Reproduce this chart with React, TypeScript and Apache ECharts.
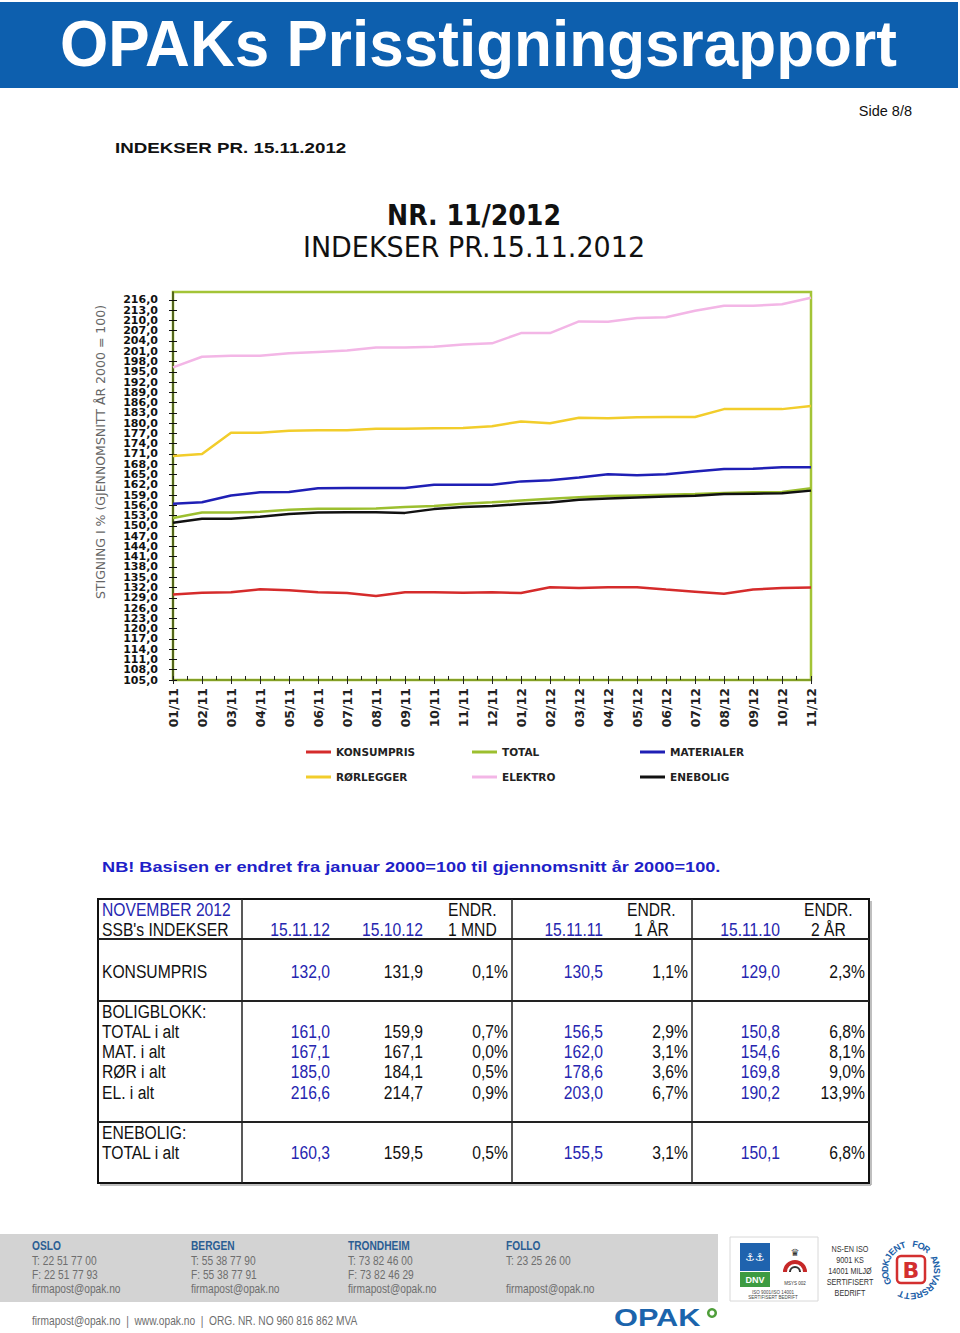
import React, { useEffect, useRef } from 'react';
import * as echarts from 'echarts';

// ---------- chart data ----------
const categories = ['01/11', '02/11', '03/11', '04/11', '05/11', '06/11', '07/11', '08/11', '09/11', '10/11', '11/11', '12/11',
  '01/12', '02/12', '03/12', '04/12', '05/12', '06/12', '07/12', '08/12', '09/12', '10/12', '11/12'];
const konsumpris = [130.0, 130.5, 130.6, 131.5, 131.2, 130.6, 130.4, 129.5, 130.6, 130.6, 130.5, 130.6, 130.4, 132.1, 131.9, 132.1, 132.1, 131.4, 130.8, 130.2, 131.4, 131.9, 132.0];
const total = [152.3, 153.9, 153.9, 154.1, 154.7, 155.0, 155.0, 155.1, 155.5, 155.8, 156.5, 156.9, 157.4, 157.9, 158.4, 158.7, 158.9, 159.1, 159.3, 159.6, 159.8, 159.9, 161.0];
const materialer = [156.5, 156.9, 158.9, 159.8, 159.9, 161.0, 161.1, 161.1, 161.1, 162.0, 162.0, 162.0, 163.0, 163.3, 164.1, 165.1, 164.8, 165.1, 165.9, 166.6, 166.7, 167.1, 167.1];
const rorlegger = [170.4, 171.0, 177.2, 177.2, 177.8, 177.9, 177.9, 178.4, 178.4, 178.5, 178.6, 179.1, 180.5, 180.0, 181.6, 181.4, 181.7, 181.8, 181.8, 184.1, 184.1, 184.1, 185.0];
const elektro = [196.3, 199.4, 199.7, 199.7, 200.4, 200.8, 201.2, 202.1, 202.1, 202.3, 203.0, 203.3, 206.3, 206.3, 209.7, 209.6, 210.7, 210.9, 212.8, 214.3, 214.3, 214.7, 216.6];
const enebolig = [150.9, 152.1, 152.1, 152.7, 153.5, 153.9, 154.0, 154.0, 153.8, 154.9, 155.5, 155.8, 156.4, 156.8, 157.6, 158.0, 158.3, 158.6, 158.8, 159.3, 159.4, 159.5, 160.3];
const seriesNames = ['KONSUMPRIS', 'TOTAL', 'MATERIALER', 'RØRLEGGER', 'ELEKTRO', 'ENEBOLIG'];
const yMin = 105;
const yMax = 218.3;
const yStep = 3;

// ---------- table data ----------
const headDates = ['15.11.12', '15.10.12', '15.11.11', '15.11.10'];
const rowLabels = ['KONSUMPRIS', 'TOTAL i alt', 'MAT. i alt', 'RØR i alt', 'EL. i alt', 'TOTAL i alt'];
const idxNov12 = [132.0, 161.0, 167.1, 185.0, 216.6, 160.3];
const idxOct12 = [131.9, 159.9, 167.1, 184.1, 214.7, 159.5];
const chg1m = ['0,1%', '0,7%', '0,0%', '0,5%', '0,9%', '0,5%'];
const idxNov11 = [130.5, 156.5, 162.0, 178.6, 203.0, 155.5];
const chg1y = ['1,1%', '2,9%', '3,1%', '3,6%', '6,7%', '3,1%'];
const idxNov10 = [129.0, 150.8, 154.6, 169.8, 190.2, 150.1];
const chg2y = ['2,3%', '6,8%', '8,1%', '9,0%', '13,9%', '6,8%'];

// ---------- footer data ----------
const offices = ['OSLO', 'BERGEN', 'TRONDHEIM', 'FOLLO'];
const officePhone = ['T: 22 51 77 00', 'T: 55 38 77 90', 'T: 73 82 46 00', 'T: 23 25 26 00'];
const officeFax = ['F: 22 51 77 93', 'F: 55 38 77 91', 'F: 73 82 46 29', ''];
const officeMail = ['firmapost@opak.no', 'firmapost@opak.no', 'firmapost@opak.no', 'firmapost@opak.no'];

const colors = ['#d52b2b', '#9cbf2f', '#1f1fb5', '#f2cd2b', '#f3b6e6', '#111111'];
const BLUE_TXT = '#2626b0';

const fmt = (v: number) => v.toFixed(1).replace('.', ',');

type TO = { size?: number; family?: string; weight?: string; color?: string; align?: string; sx?: number; rot?: number };
function T(x: number, y: number, text: string, o: TO = {}) {
  const align = o.align || 'left';
  return {
    type: 'text',
    x, y,
    scaleX: o.sx ?? 1,
    rotation: o.rot ?? 0,
    style: {
      text,
      fill: o.color || '#111',
      fontSize: o.size || 12,
      fontFamily: o.family || 'Liberation Sans',
      fontWeight: o.weight || 'normal',
      textAlign: align, align,
      textVerticalAlign: 'middle', verticalAlign: 'middle',
    },
  };
}
function L(x1: number, y1: number, x2: number, y2: number, color: string, w: number) {
  return { type: 'line', shape: { x1, y1, x2, y2 }, style: { stroke: color, lineWidth: w } };
}

function buildGraphic() {
  const g: any[] = [];
  // header
  g.push({ type: 'rect', shape: { x: 0, y: 2, width: 958, height: 86 }, style: { fill: '#0d5fae' } });
  g.push(T(60, 44, 'OPAKs Prisstigningsrapport', { size: 64, weight: 'bold', color: '#ffffff', sx: 0.97 }));
  g.push(T(912, 111, 'Side 8/8', { size: 14.5, align: 'right' }));
  g.push(T(115, 148, 'INDEKSER PR. 15.11.2012', { size: 15, weight: 'bold', sx: 1.25 }));
  g.push(T(474, 215, 'NR. 11/2012', { size: 29, weight: 'bold', family: 'DejaVu Sans', align: 'center', sx: 0.87 }));
  g.push(T(474, 247, 'INDEKSER PR.15.11.2012', { size: 29, family: 'DejaVu Sans', align: 'center', sx: 0.93 }));
  // y axis name
  g.push(T(100, 452, 'STIGNING I % (GJENNOMSNITT ÅR 2000 = 100)', { size: 12.5, family: 'DejaVu Sans', color: '#666', align: 'center', rot: Math.PI / 2 }));

  // NB text
  g.push(T(102, 867, 'NB! Basisen er endret fra januar 2000=100 til gjennomsnitt år 2000=100.', { size: 14, weight: 'bold', color: '#1f1fc8', sx: 1.3 }));

  // table frame
  const tx0 = 98, tx1 = 869, ty0 = 899, ty1 = 1183;
  g.push(L(tx0 + 2, ty1 + 2, tx1 + 2, ty1 + 2, '#aaa', 1.5));
  g.push(L(tx1 + 2, ty0 + 2, tx1 + 2, ty1 + 2, '#aaa', 1.5));
  g.push({ type: 'rect', shape: { x: tx0, y: ty0, width: tx1 - tx0, height: ty1 - ty0 }, style: { fill: 'none', stroke: '#111', lineWidth: 2 } });
  [939, 1001, 1122].forEach((y) => g.push(L(tx0, y, tx1, y, '#222', 2.2)));
  [242, 512, 692].forEach((x) => g.push(L(x, ty0, x, ty1, '#222', 1.5)));

  const TS = 18, TSX = 0.87;
  const tt = (x: number, y: number, s: string, color = '#111', align = 'left') => T(x, y, s, { size: TS, sx: TSX, color, align });
  g.push(tt(102, 910, 'NOVEMBER 2012', BLUE_TXT));
  g.push(tt(102, 930, "SSB's INDEKSER"));
  const colRight = [330, 423, 508, 603, 688, 780, 865];
  const dateCols = [0, 1, 3, 5];
  headDates.forEach((d, i) => g.push(tt(colRight[dateCols[i]], 930, d, BLUE_TXT, 'right')));
  g.push(tt(448, 910, 'ENDR.'));
  g.push(tt(448, 930, '1 MND'));
  g.push(tt(627, 910, 'ENDR.'));
  g.push(tt(634, 930, '1 ÅR'));
  g.push(tt(804, 910, 'ENDR.'));
  g.push(tt(811, 930, '2 ÅR'));

  g.push(tt(102, 1012, 'BOLIGBLOKK:'));
  g.push(tt(102, 1133, 'ENEBOLIG:'));
  const rowY = [972, 1032, 1052, 1072, 1093, 1153];
  rowLabels.forEach((lab, r) => {
    const y = rowY[r];
    g.push(tt(102, y, lab));
    const cells = [fmt(idxNov12[r]), fmt(idxOct12[r]), chg1m[r], fmt(idxNov11[r]), chg1y[r], fmt(idxNov10[r]), chg2y[r]];
    const cc = [BLUE_TXT, '#111', '#111', BLUE_TXT, '#111', BLUE_TXT, '#111'];
    cells.forEach((c, k) => g.push(tt(colRight[k], y, c, cc[k], 'right')));
  });

  // footer
  g.push({ type: 'rect', shape: { x: 0, y: 1234, width: 718, height: 68 }, style: { fill: '#d3d3d3' } });
  const offX = [32, 191, 348, 506];
  offices.forEach((o, i) => {
    g.push(T(offX[i], 1246, o, { size: 12, weight: 'bold', color: '#2b5e93', sx: 0.85 }));
    g.push(T(offX[i], 1261, officePhone[i], { size: 12, color: '#6e6e6e', sx: 0.85 }));
    if (officeFax[i]) g.push(T(offX[i], 1275, officeFax[i], { size: 12, color: '#6e6e6e', sx: 0.85 }));
    g.push(T(offX[i], 1289, officeMail[i], { size: 12, color: '#6e6e6e', sx: 0.85 }));
  });
  g.push(T(32, 1321, 'firmapost@opak.no  |  www.opak.no  |  ORG. NR. NO 960 816 862 MVA', { size: 12, color: '#6e6e6e', sx: 0.85 }));
  g.push(T(614, 1318, 'OPAK', { size: 24, weight: 'bold', color: '#1b64ac', sx: 1.28 }));
  g.push({ type: 'ring', shape: { cx: 712, cy: 1313, r: 5, r0: 2.5 }, style: { fill: '#4f9e3a' } });

  // certification logos
  g.push({ type: 'rect', shape: { x: 730, y: 1237, width: 88, height: 64 }, style: { fill: '#fff', stroke: '#d8d8d8', lineWidth: 1 } });
  g.push({ type: 'rect', shape: { x: 740, y: 1243, width: 30, height: 28 }, style: { fill: '#1f63ae' } });
  g.push(T(755, 1257, '⚓⚓', { size: 11, color: '#fff', align: 'center', family: 'DejaVu Sans' }));
  g.push({ type: 'rect', shape: { x: 740, y: 1272, width: 30, height: 15 }, style: { fill: '#3d9b42' } });
  g.push(T(755, 1280, 'DNV', { size: 9, weight: 'bold', color: '#fff', align: 'center' }));
  g.push({ type: 'arc', shape: { cx: 795, cy: 1272, r: 10, startAngle: Math.PI, endAngle: Math.PI * 2, clockwise: true }, style: { stroke: '#c62828', lineWidth: 4, fill: 'none' } });
  g.push({ type: 'arc', shape: { cx: 795, cy: 1272, r: 5, startAngle: Math.PI, endAngle: Math.PI * 2, clockwise: true }, style: { stroke: '#333', lineWidth: 2, fill: 'none' } });
  g.push(T(795, 1252, '♛', { size: 10, color: '#333', align: 'center', family: 'DejaVu Sans' }));
  g.push(T(795, 1283, 'MSYS 002', { size: 4.5, color: '#333', align: 'center' }));
  g.push(T(773, 1292, 'ISO 9001/ISO 14001', { size: 4.5, color: '#444', align: 'center' }));
  g.push(T(773, 1297, 'SERTIFISERT BEDRIFT', { size: 4.5, color: '#444', align: 'center' }));
  ['NS-EN ISO', '9001 KS', '14001 MILJØ', 'SERTIFISERT', 'BEDRIFT'].forEach((s, i) =>
    g.push(T(850, 1249 + i * 11, s, { size: 8.5, color: '#333', align: 'center', sx: 0.85 })));
  const letters = 'GODKJENT FOR ANSVARSRETT';
  const cx = 911, cy = 1270, rr = 26;
  for (let k = 0; k < letters.length; k++) {
    const th = (205 - k * 13.8) * Math.PI / 180;
    g.push(T(cx + rr * Math.cos(th), cy - rr * Math.sin(th), letters[k], { size: 9, weight: 'bold', color: '#2060a8', align: 'center', rot: th - Math.PI / 2 }));
  }
  g.push({ type: 'rect', shape: { x: 897, y: 1256, width: 28, height: 27, r: 4 }, style: { fill: 'none', stroke: '#d32f2f', lineWidth: 2.5 } });
  g.push(T(911, 1270, 'B', { size: 22, weight: 'bold', color: '#d32f2f', align: 'center', family: 'DejaVu Sans' }));
  return g;
}

function buildOption() {
  const seriesData = [konsumpris, total, materialer, rorlegger, elektro, enebolig];
  const legendPos = [
    [306, 746.5], [472, 746.5], [640, 746.5],
    [306, 771.5], [472, 771.5], [640, 771.5],
  ];
  const grid = { left: 173, top: 292, width: 638, height: 388, show: true, borderColor: '#a3c437', borderWidth: 2.5, backgroundColor: '#fff' };
  const yLabelFont = { fontFamily: 'DejaVu Sans', fontWeight: 'bold', fontSize: 11, color: '#111' };
  return {
    animation: false,
    backgroundColor: '#ffffff',
    grid,
    legend: seriesNames.map((n, i) => ({
      data: [n],
      left: legendPos[i][0], top: legendPos[i][1],
      padding: 0, icon: 'rect', itemWidth: 25, itemHeight: 3,
      selectedMode: false,
      textStyle: { fontFamily: 'DejaVu Sans', fontWeight: 'bold', fontSize: 10.5, color: '#222' },
    })),
    xAxis: [
      {
        type: 'category', data: categories, boundaryGap: false,
        axisLine: { lineStyle: { color: '#7a9322', width: 1.5 } },
        axisTick: { show: true, length: 4, lineStyle: { color: '#222' }, alignWithLabel: true },
        axisLabel: { rotate: 90, margin: 8, fontFamily: 'DejaVu Sans', fontWeight: 'bold', fontSize: 12.5, color: '#222', interval: 0 },
        splitLine: { show: false },
      },
      {
        type: 'value', min: 0, max: categories.length - 1, interval: 0.5, position: 'bottom',
        axisLine: { show: false }, axisLabel: { show: false }, splitLine: { show: false },
        axisTick: { show: true, inside: true, length: 4, lineStyle: { color: '#222' } },
      },
    ],
    yAxis: [
      {
        type: 'value', min: yMin, max: yMax, interval: yStep,
        axisLine: { show: true, lineStyle: { color: '#3a4812', width: 1.5 } },
        axisTick: { show: true, length: 4, lineStyle: { color: '#111' } },
        axisLabel: {
          margin: 15, showMaxLabel: false, hideOverlap: false, ...yLabelFont,
          formatter: (v: number) => (v === yMin ? '' : fmt(v)),
        },
        splitLine: { show: false },
      },
      {
        type: 'value', min: yMin, max: yMax, interval: yStep, position: 'left',
        axisLine: { show: false }, splitLine: { show: false },
        axisLabel: {
          show: true, margin: 15, showMinLabel: true, showMaxLabel: false, ...yLabelFont,
          formatter: (v: number) => (v === yMin ? fmt(v) : ''),
        },
        axisTick: { show: true, inside: true, length: 4, lineStyle: { color: '#111' } },
      },
    ],
    series: seriesNames.map((n, i) => ({
      name: n, type: 'line', data: seriesData[i], xAxisIndex: 0, yAxisIndex: 0,
      showSymbol: false, symbol: 'none', color: colors[i],
      lineStyle: { color: colors[i], width: 2.5 },
    })),
    graphic: { elements: buildGraphic() },
  };
}

export default function App() {
  const ref = useRef<HTMLDivElement>(null);
  useEffect(() => {
    document.body.style.margin = '0';
    const chart = echarts.init(ref.current as HTMLDivElement, null, { renderer: 'svg' });
    chart.setOption(buildOption() as any);
    return () => chart.dispose();
  }, []);
  return <div ref={ref} style={{ width: 960, height: 1333 }} />;
}
